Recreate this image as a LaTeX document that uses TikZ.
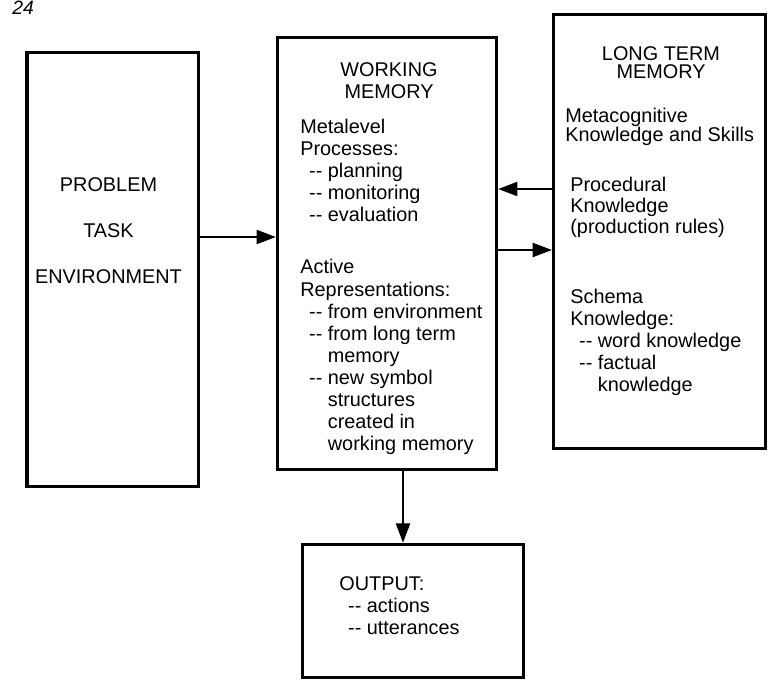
\documentclass[tikz,border=0pt]{standalone}
\usepackage{fontspec}
\setmainfont{Liberation Sans}
\usetikzlibrary{arrows.meta, positioning}
\tikzstyle{bloc} = [
    rectangle,
    draw = black,
    line width = 1.8pt,
    inner sep = 0pt,
]
\tikzstyle{texte} = [
    align = left,
    inner sep = 0pt,
    font = \fontsize{11.3}{12.6}\selectfont,
]
\tikzstyle{fleche} = [-{Triangle[length = 11pt, width = 8pt]}, line width = 1.2pt]
\newcommand{\tiret}{\hspace*{5pt}-{}-\ }
\newcommand{\suite}{\hspace*{5pt}\hphantom{-{}-\ }}

\begin{document}
\begin{tikzpicture} [x = 0.02cm, y = -0.02cm]
    \useasboundingbox (0,0) rectangle (771,688);
    \node (page) [anchor = base west, inner sep = 0pt, font = \fontsize{11}{13}\selectfont\itshape] at (12,15) {24};

    % les quatre boites
    \node (env) [bloc, minimum width = 3.43cm, minimum height = 8.68cm] at (112.75,269.8) {};
    \node (wm) [bloc, minimum width = 4.384cm, minimum height = 8.64cm] at (387,253.5) {};
    \node (ltm) [bloc, minimum width = 4.24cm, minimum height = 8.68cm] at (659.5,231.6) {};
    \node (out) [bloc, minimum width = 4.41cm, minimum height = 2.668cm] at (413,611) {};

    % textes (ancre base = derniere ligne)
    \node (envtxt) [texte, align = center, anchor = base] at (108.5,283.5) {PROBLEM\\[13.5pt]TASK\\[13.5pt]ENVIRONMENT};

    \node (wmtitre) [texte, align = center, anchor = base] at (389,98.5) {WORKING\\MEMORY};
    \node (metalevel) [texte, anchor = base west] at (300,222) {Metalevel\\Processes:\\\tiret planning\\\tiret monitoring\\\tiret evaluation};
    \node (active) [texte, anchor = base west] at (300,451) {Active\\Representations:\\\tiret from environment\\\tiret from long term\\\suite memory\\\tiret new symbol\\\suite structures\\\suite created in\\\suite working memory};

    \node (ltmtitre) [texte, align = center, anchor = base, font = \fontsize{11.3}{10.2}\selectfont] at (661,78.5) {LONG TERM\\MEMORY};
    \node (meta) [texte, anchor = base west, font = \fontsize{11.3}{10.8}\selectfont] at (565,141.5) {Metacognitive\\Knowledge and Skills};
    \node (proc) [texte, anchor = base west, font = \fontsize{11.3}{12}\selectfont] at (570,233.3) {Procedural\\Knowledge\\(production rules)};
    \node (schema) [texte, anchor = base west] at (570,392) {Schema\\Knowledge:\\\tiret word knowledge\\\tiret factual\\\suite knowledge};

    \node (outtxt) [texte, anchor = base west] at (339,634.4) {OUTPUT:\\\tiret actions\\\tiret utterances};

    % fleches
    \draw[fleche] ([yshift = 0.656cm]env.east) -- ([yshift = 0.656cm]env.east -| wm.west);
    \draw[fleche] ([yshift = 0.852cm]ltm.west) -- ([yshift = 0.852cm]ltm.west -| wm.east);
    \draw[fleche] ([yshift = 0.07cm]wm.east) -- ([yshift = 0.07cm]wm.east -| ltm.west);
    \draw[fleche] ([xshift = 0.32cm]wm.south) -- ([xshift = 0.32cm]wm.south |- out.north);
\end{tikzpicture}
\end{document}
